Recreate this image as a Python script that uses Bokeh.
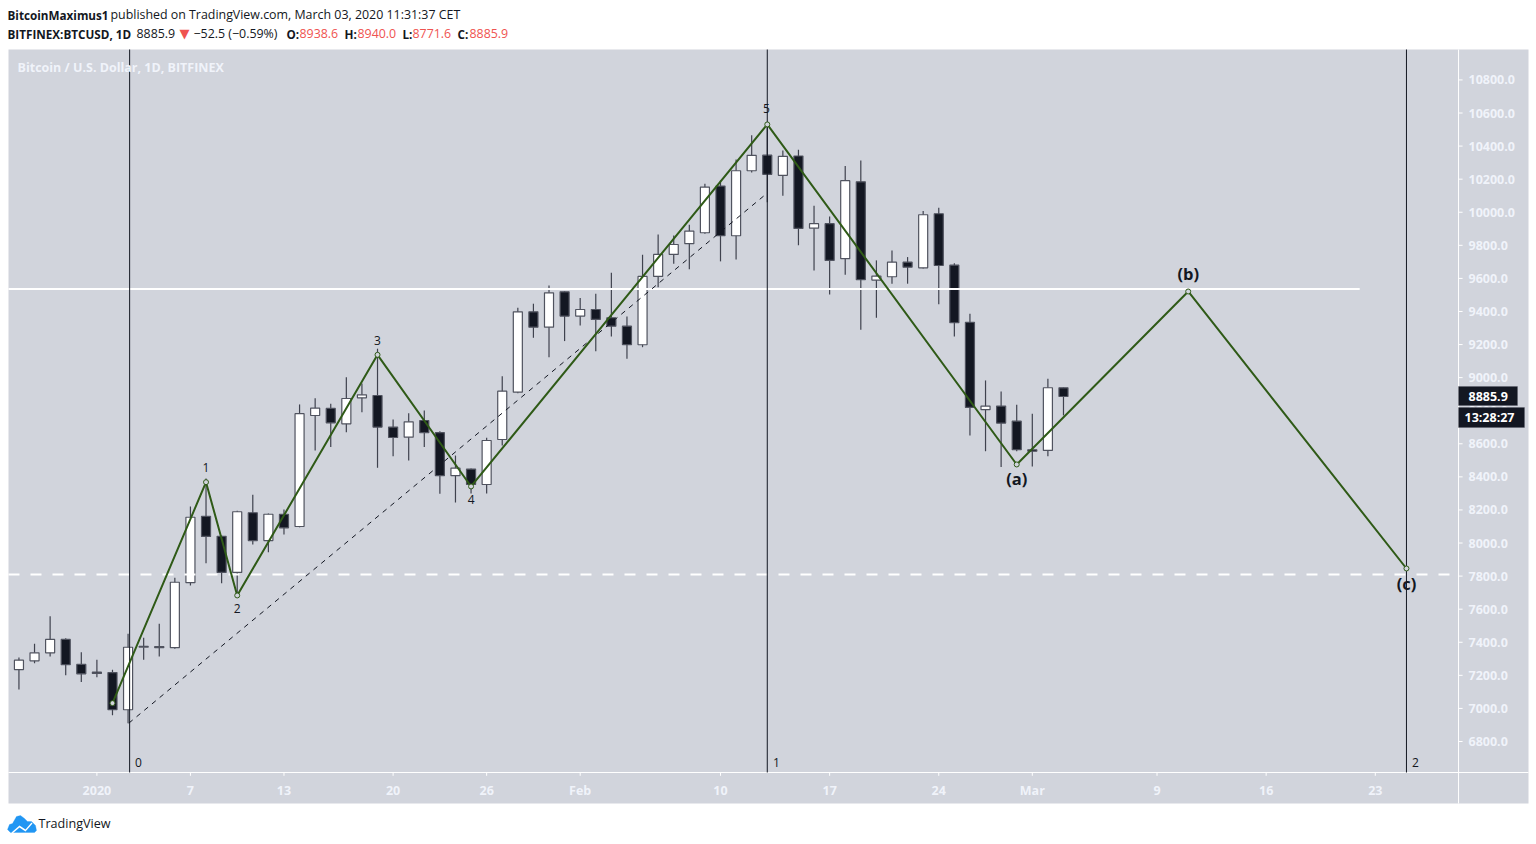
from bokeh.core.properties import value
from bokeh.embed import file_html
from bokeh.resources import INLINE
from bokeh.plotting import figure
from bokeh.models import ColumnDataSource, Range1d, Label, BoxAnnotation, PolyAnnotation

# ---------- data ----------
days = list(range(-5, 63))   # days relative to 1 Jan 2020
opens = [7235,7288,7336,7417,7266,7219,7217,6992,7370,7374,7367,7760,8162,8041,7822,8183,8015,8174,8100,8771,8814,8721,8878,8892,8701,8640,8741,8667,8407,8447,8354,8626,8912,9398,9305,9519,9372,9412,9362,9311,9199,9612,9745,9810,9876,10158,9858,10251,10345,10223,10340,9904,9931,9719,10184,9590,9610,9698,9664,9991,9680,9335,8806,8828,8737,8564,8560,8938.6]
highs = [7308,7391,7558,7425,7340,7294,7234,7451,7427,7512,7790,8221,8390,8045,8195,8292,8178,8203,8838,8876,8842,9003,8965,9175,8747,8785,8802,8676,8529,8450,8636,9009,9423,9447,9557,9522,9481,9507,9634,9370,9743,9866,9860,9924,10172,10192,10319,10466,10531,10374,10378,10039,9975,10279,10313,9709,9769,9729,10007,10027,9692,9386,8983,8916,8836,8782,8993,8940.0]
lows = [7114,7273,7314,7201,7159,7189,6959,6911,7294,7314,7361,7743,7878,7757,7683,7991,7945,8052,8095,8560,8580,8670,8791,8455,8525,8499,8580,8298,8245,8300,8300,8590,8905,9241,9124,9221,9316,9160,9249,9114,9184,9547,9689,9656,9870,9703,9715,10241,10061,10100,9801,9648,9503,9622,9290,9362,9568,9568,9660,9443,9249,8650,8555,8459,8555,8463,8525,8771.6]
closes = [7292,7336,7417,7264,7209,7211,6992,7370,7376,7367,7763,8156,8040,7822,8189,8015,8174,8092,8782,8816,8727,8874,8896,8701,8638,8733,8667,8407,8453,8354,8620,8918,9398,9305,9513,9372,9412,9352,9311,9199,9612,9745,9805,9886,10152,9858,10251,10344,10229,10338,9902,9931,9709,10191,9592,9614,9698,9668,9985,9678,9332,8820,8828,8725,8564,8555,8939,8885.9]

wave_days = [1, 7, 9, 18, 24, 43, 59, 70, 84]
wave_prices = [7032, 8368, 7683, 9138, 8342, 10531, 8475, 9521, 7846]
trend_days = [2.05, 43]
trend_prices = [6911, 10116]
resistance_price = 9536
resistance_end_day = 81
support_price = 7810
support_end_day = 86.8
cycle_days = [2.1, 43, 84]

count_labels = ["1", "2", "3", "4", "5"]
count_days = [7, 9, 18, 24, 42.95]
count_prices = [8457, 7604, 9225, 8263, 10628]
cycle_labels = ["0", "1", "2"]
cycle_label_days = [2.67, 43.59, 84.58]
cycle_label_price = 6673
abc_labels = ["(a)", "(b)", "(c)"]
abc_days = [59, 70, 84]
abc_prices = [8390, 9630, 7755]

price_ticks = list(range(6800, 11000, 200))
price_tick_labels = [f"{t:.1f}" for t in price_ticks]
date_tick_days = [0, 6, 12, 19, 25, 31, 40, 47, 54, 60, 68, 75, 82]
date_tick_labels = ["2020", "7", "13", "20", "26", "Feb", "10", "17", "24", "Mar", "9", "16", "23"]
last_price = 8885.9

# ---------- styles ----------
PANEL = "#d1d4dc"
DARK = "#131722"
EDGE = "#50535f"
WICK = "#3f424e"
GREEN = "#2f5a17"
RED = "#ef5350"
LIGHT = "#f0f3fa"
FONT = "Open Sans"
REGULAR, BOLD = 12.4, 11.7

# the frame fills the whole canvas, so every annotation can be placed anywhere on it
W, H = 1530, 840
X_LEFT, X_RIGHT = -6.183, 91.956
Y_BOTTOM, Y_TOP = 6201.4, 11280.3
PANEL_LEFT, AXIS_DAY, PANEL_RIGHT = -5.67, 87.34, 91.83
PANEL_BOTTOM, AXIS_PRICE, PANEL_TOP = 6425, 6612.6, 10984
PRICE_TICK_END, DATE_TICK_END, DATE_LABEL_PRICE = AXIS_DAY + 0.26, AXIS_PRICE - 20, 6504

p = figure(width=W, height=H, output_backend="svg", toolbar_location=None,
           x_range=Range1d(X_LEFT, X_RIGHT), y_range=Range1d(Y_BOTTOM, Y_TOP),
           min_border=0, background_fill_color="white", border_fill_color="white", outline_line_color=None,
           x_axis_type=None, y_axis_type=None)
p.grid.visible = False


def canvas_box(left, right, top, bottom, fill, line=None, level="underlay"):
    p.add_layout(BoxAnnotation(left=left, right=right, top=top, bottom=bottom,
                               left_units="canvas", right_units="canvas", top_units="canvas", bottom_units="canvas",
                               fill_color=fill, fill_alpha=1, line_color=line, level=level, editable=False))


def canvas_text(x, y, text, color=DARK, size=REGULAR, style="normal", font=FONT, align="left"):
    p.add_layout(Label(x=x, y=y, x_units="canvas", y_units="canvas", text=text, text_color=color,
                       text_font_size=f"{size}px", text_font=font, text_font_style=style,
                       text_align=align, text_baseline="middle", level="overlay"))


# panel (canvas coordinates = page coordinates)
canvas_box(8, 1528, 49, 803, PANEL)

# axes: lines, ticks and tick labels on the chart's own scales
p.segment([AXIS_DAY, PANEL_LEFT], [PANEL_BOTTOM, AXIS_PRICE], [AXIS_DAY, PANEL_RIGHT], [PANEL_TOP, AXIS_PRICE],
          line_color="white", line_width=1)
p.segment([AXIS_DAY] * len(price_ticks), price_ticks, [PRICE_TICK_END] * len(price_ticks), price_ticks,
          line_color="white", line_width=1)
p.segment(date_tick_days, [AXIS_PRICE] * len(date_tick_days), date_tick_days, [DATE_TICK_END] * len(date_tick_days),
          line_color="white", line_width=1)
p.text([AXIS_DAY] * len(price_ticks), price_ticks, text=price_tick_labels, x_offset=10, text_align="left",
       text_baseline="middle", text_color=LIGHT, text_font=value(FONT), text_font_size="12.5px", text_font_style="bold")
p.text(date_tick_days, [DATE_LABEL_PRICE] * len(date_tick_days), text=date_tick_labels, text_align="center",
       text_baseline="middle", text_color=LIGHT, text_font=value(FONT), text_font_size="12.5px", text_font_style="bold")

# candles
src = ColumnDataSource(dict(day=days, open=opens, high=highs, low=lows, close=closes,
                            fill=["white" if c >= o else DARK for o, c in zip(opens, closes)]))
p.segment("day", "low", "day", "high", source=src, line_color=WICK, line_width=1.2)
p.vbar("day", top="open", bottom="close", width=0.58, source=src, fill_color="fill", line_color=EDGE, line_width=1.2)

# horizontal levels
p.line([PANEL_LEFT, resistance_end_day], [resistance_price] * 2, line_color="white", line_width=2)
p.line([PANEL_LEFT, support_end_day], [support_price] * 2, line_color="white", line_width=2, line_dash=[11, 11])

# cycle verticals and trend line
p.segment(cycle_days, [AXIS_PRICE] * 3, cycle_days, [PANEL_TOP] * 3, line_color=DARK, line_width=1)
p.line(trend_days, trend_prices, line_color=DARK, line_width=1, line_dash=[5, 5])

# wave
p.line(wave_days, wave_prices, line_color=GREEN, line_width=2)
p.scatter(wave_days, wave_prices, marker="circle", size=5, fill_color=PANEL, line_color=GREEN, line_width=1)

p.text(count_days, count_prices, text=count_labels, text_align="center", text_baseline="middle",
       text_color=DARK, text_font=value(FONT), text_font_size="12px")
p.text(cycle_label_days, [cycle_label_price] * 3, text=cycle_labels, text_align="center", text_baseline="middle",
       text_color=DARK, text_font=value(FONT), text_font_size="12px")
p.text(abc_days, abc_prices, text=abc_labels, text_align="center", text_baseline="middle",
       text_color=DARK, text_font=value(FONT), text_font_size="16.5px", text_font_style="bold")

# chart title
canvas_text(17, 67, "Bitcoin / U.S. Dollar, 1D, BITFINEX", color=LIGHT, size=12.5, style="bold")

# last price tags
canvas_box(1458, 1517, 386, 405, DARK, line=EDGE, level="overlay")
canvas_box(1458, 1524, 407, 427, DARK, line=EDGE, level="overlay")
canvas_text(1468, 396, f"{last_price:.1f}", color="white", size=12.5, style="bold")
canvas_text(1464, 417, "13:28:27", color="white", size=12.5, style="bold")

# header
canvas_text(7, 14, "BitcoinMaximus1", style="bold", size=BOLD)
canvas_text(110, 14, "published on TradingView.com, March 03, 2020 11:31:37 CET")
canvas_text(7, 33, "BITFINEX:BTCUSD, 1D", style="bold", size=BOLD)
canvas_text(136, 33, "8885.9")
canvas_text(179, 33, "\u25bc", color=RED, size=13, font="DejaVu Sans")
canvas_text(193, 33, "\u221252.5 (\u22120.59%)")
for (x, s), (vx, v) in [((286, "O:"), (299, "8938.6")), ((344, "H:"), (357, "8940.0")),
                        ((402, "L:"), (412, "8771.6")), ((457, "C:"), (469, "8885.9"))]:
    canvas_text(x, 33, s, style="bold", size=BOLD)
    canvas_text(vx, 33, v, color=RED)

# TradingView logo and footer
p.add_layout(PolyAnnotation(xs=[7, 9, 12, 16, 20, 24, 27, 31, 35, 36, 34, 10],
                            ys=[829, 824, 823, 816, 815, 818, 821, 821, 825, 830, 832, 832],
                            xs_units="canvas", ys_units="canvas", fill_color="#2196f3", fill_alpha=1,
                            line_color="#2196f3", level="overlay", editable=False))
p.add_layout(PolyAnnotation(xs=[11, 19, 25, 31, 32, 25, 19, 12], ys=[832, 825, 829, 822, 823, 831, 827, 833],
                            xs_units="canvas", ys_units="canvas", fill_color="white", fill_alpha=1,
                            line_color=None, level="overlay", editable=False))
canvas_text(38, 823, "TradingView", color=DARK, size=12.6)

open("out.html", "w").write(file_html(p, INLINE))
